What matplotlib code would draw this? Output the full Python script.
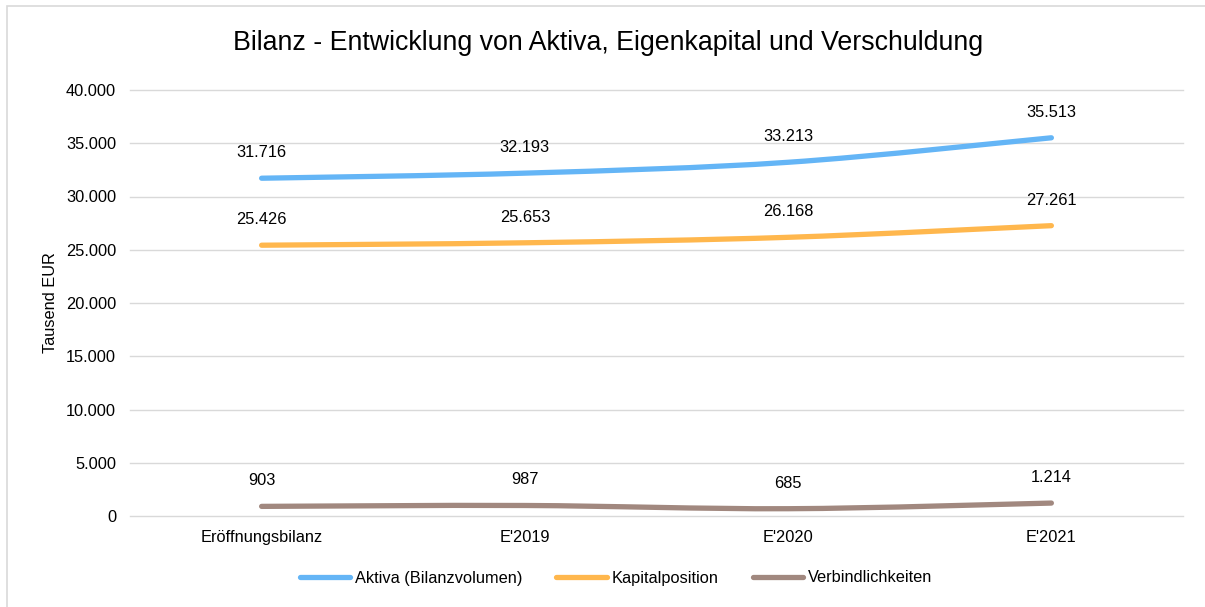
import matplotlib
matplotlib.use("Agg")
import matplotlib.pyplot as plt
from matplotlib.path import Path
from matplotlib.patches import PathPatch, Rectangle
from matplotlib.lines import Line2D
from matplotlib.ticker import FuncFormatter

plt.rcParams['font.family'] = ['Liberation Sans', 'DejaVu Sans']

categories = ["Eröffnungsbilanz", "E'2019", "E'2020", "E'2021"]
aktiva = [31716, 32193, 33213, 35513]
kapital = [25426, 25653, 26168, 27261]
verbindlichkeiten = [903, 987, 685, 1214]
series_names = ["Aktiva (Bilanzvolumen)", "Kapitalposition", "Verbindlichkeiten"]
colors = ["#64B5F6", "#FFB74D", "#A1887F"]
title = "Bilanz - Entwicklung von Aktiva, Eigenkapital und Verschuldung"
ylabel = "Tausend EUR"
yticks = [0, 5000, 10000, 15000, 20000, 25000, 30000, 35000, 40000]

FS = 11.8
W, H = 1205, 607
fig = plt.figure(figsize=(W / 100, H / 100), dpi=100)
fig.patch.set_facecolor("white")

# chart border
fig.patches.append(Rectangle((7 / W, -0.1), 1.2, 1 - 6 / H + 0.1, transform=fig.transFigure,
                             fill=False, edgecolor="#D9D9D9", linewidth=1.2))

ax = fig.add_axes([130 / W, 1 - 516 / H, (1183 - 130) / W, (516 - 90) / H])
ax.set_xlim(-0.5, len(categories) - 0.5)
ax.set_ylim(0, 40000)
ax.set_yticks(yticks)
ax.yaxis.set_major_formatter(FuncFormatter(lambda v, p: f"{int(v):,}".replace(",", ".")))
ax.set_xticks(range(len(categories)))
ax.set_xticklabels(categories)
ax.tick_params(axis="both", length=0, labelsize=FS, colors="#000000")
ax.tick_params(axis="y", pad=10)
ax.tick_params(axis="x", pad=10)
for s in ax.spines.values():
    s.set_visible(False)
ax.grid(axis="y", color="#D9D9D9", linewidth=1.0)
for gl in ax.get_ygridlines():
    gl.set_clip_on(False)
ax.set_axisbelow(True)
ax.set_ylabel(ylabel, fontsize=FS, labelpad=6)


def smooth_path(xs, ys, t=1 / 6):
    verts = [(xs[0], ys[0])]
    codes = [Path.MOVETO]
    n = len(xs)
    for i in range(n - 1):
        x0, y0 = (xs[i - 1], ys[i - 1]) if i > 0 else (xs[i], ys[i])
        x1, y1 = xs[i], ys[i]
        x2, y2 = xs[i + 1], ys[i + 1]
        x3, y3 = (xs[i + 2], ys[i + 2]) if i + 2 < n else (xs[i + 1], ys[i + 1])
        c1 = (x1 + (x2 - x0) * t, y1 + (y2 - y0) * t)
        c2 = (x2 - (x3 - x1) * t, y2 - (y3 - y1) * t)
        verts += [c1, c2, (x2, y2)]
        codes += [Path.CURVE4] * 3
    return Path(verts, codes)


xs = list(range(len(categories)))
for vals, col in zip([aktiva, kapital, verbindlichkeiten], colors):
    patch = PathPatch(smooth_path(xs, vals), facecolor="none", edgecolor=col,
                      linewidth=3.8, capstyle="round", joinstyle="round")
    ax.add_patch(patch)
    for x, v in zip(xs, vals):
        ax.annotate(f"{v:,}".replace(",", "."), (x, v), xytext=(0, 13),
                    textcoords="offset points", ha="center", va="bottom",
                    fontsize=FS, color="#000000")

fig.text(0.505, 1 - 43 / H, title, ha="center", va="center", fontsize=19.3, color="#000000")

handles = [Line2D([0], [0], color=c, linewidth=3.8, solid_capstyle="round") for c in colors]
fig.legend(handles, series_names, loc="center", bbox_to_anchor=(0.511, 1 - 578 / H),
           ncol=3, frameon=False, fontsize=FS, handlelength=3.1, handletextpad=0.25,
           columnspacing=2.1)

fig.savefig("out.png", dpi=100, facecolor="white")
